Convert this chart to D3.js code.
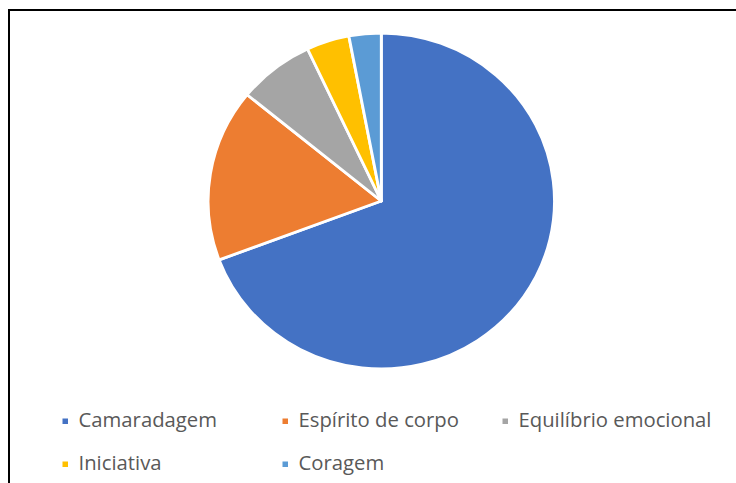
<!DOCTYPE html>
<html>
<head>
<meta charset="utf-8">
<script src="https://cdn.jsdelivr.net/npm/d3@7"></script>
<style>
  body { margin: 0; background: #fff; }
  svg { display: block; }
</style>
</head>
<body>
<div id="chart"></div>
<script>
const categories = ["Camaradagem", "Espírito de corpo", "Equilíbrio emocional", "Iniciativa", "Coragem"];
const values = [69.3, 16.6, 7.1, 4.0, 3.0];
const colors = ["#4472C4", "#ED7D31", "#A5A5A5", "#FFC000", "#5B9BD5"];

const width = 736, height = 483;

const svg = d3.select("#chart")
  .append("svg")
  .attr("width", width)
  .attr("height", height);

// chart frame (only left and top edges are visible)
svg.append("path")
  .attr("d", `M9,${height + 5} L9,10 L${width + 5},10`)
  .attr("fill", "none")
  .attr("stroke", "#000")
  .attr("stroke-width", 2);

const radius = 168;
const pie = d3.pie().sort(null).value((d) => d);
const arc = d3.arc().innerRadius(0).outerRadius(radius);

const slices = svg.append("g")
  .attr("transform", "translate(381.3,201) scale(1.031,1)")
  .selectAll("path")
  .data(pie(values))
  .join("path")
  .attr("d", arc)
  .attr("fill", (d, i) => colors[i])
  .attr("stroke", "#fff")
  .attr("stroke-width", 2.8)
  .attr("stroke-linejoin", "round");

// legend
const colX = [62.5, 282.5, 502.5];
const rowY = [427, 470];

const legend = svg.append("g")
  .selectAll("g")
  .data(categories)
  .join("g")
  .attr("transform", (d, i) => `translate(${colX[i % 3]},${rowY[Math.floor(i / 3)]})`);

legend.append("rect")
  .attr("x", 0)
  .attr("y", -8.5)
  .attr("width", 5.5)
  .attr("height", 5.5)
  .attr("fill", (d, i) => colors[i]);

legend.append("text")
  .attr("x", 16)
  .attr("y", 0)
  .attr("fill", "#595959")
  .style("font-family", "'Open Sans', sans-serif")
  .style("font-size", "20.3px")
  .text((d) => d);
</script>
</body>
</html>
